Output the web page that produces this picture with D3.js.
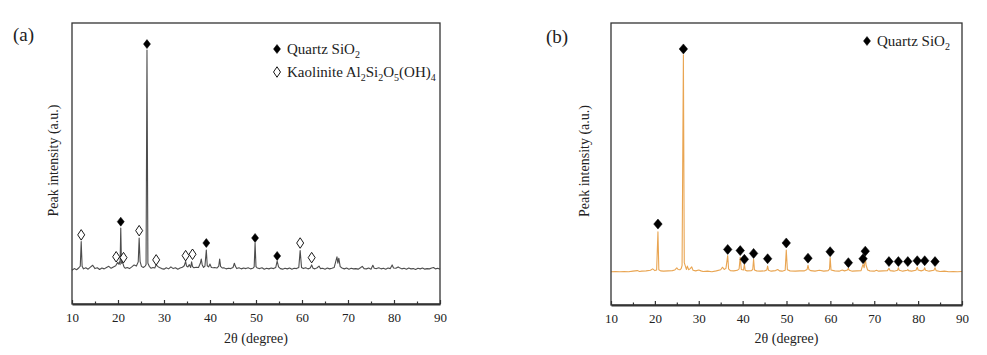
<!DOCTYPE html>
<html><head><meta charset="utf-8">
<script src="https://cdn.jsdelivr.net/npm/d3@7"></script>
<style>
body{margin:0;background:#fff;}
text{font-family:"Liberation Serif","Times New Roman",serif;fill:#222;}
</style></head><body>
<svg id="c" width="987" height="355"></svg>
<script>
// ---------- Data ----------
const xTicks = [10,20,30,40,50,60,70,80,90];
const xMinorTicks = [15,25,35,45,55,65,75,85];

// Panel (a) pattern: 2θ and intensity (a.u.)
const aTheta = [10.0,10.5,11.0,11.5,11.8,12.0,12.2,12.5,13.0,13.5,14.0,14.5,15.0,15.5,16.0,16.5,17.0,17.5,18.0,18.5,19.0,19.5,19.9,20.1,20.3,20.45,20.6,20.75,21.0,21.3,21.6,22.0,22.5,23.0,23.5,24.0,24.4,24.6,24.8,25.1,25.5,25.9,26.1,26.3,26.5,26.8,27.2,27.6,28.0,28.3,28.6,29.0,29.5,30.0,30.5,31.0,31.5,32.0,32.5,33.0,33.5,34.0,34.4,34.7,34.9,35.2,35.5,35.8,36.0,36.2,36.5,37.0,37.5,37.9,38.1,38.3,38.6,38.9,39.2,39.4,39.7,40.0,40.3,40.7,41.0,41.5,41.9,42.1,42.3,42.7,43.0,43.5,44.0,44.5,45.0,45.3,45.5,45.8,46.3,46.8,47.3,47.8,48.3,48.8,49.3,49.6,49.8,50.0,50.3,50.8,51.3,51.8,52.3,52.8,53.3,53.8,54.3,54.6,54.9,55.3,55.8,56.3,56.8,57.3,57.8,58.3,58.8,59.3,59.6,59.9,60.3,60.8,61.3,61.8,62.1,62.4,62.8,63.3,63.7,64.0,64.5,65.0,65.5,66.0,66.5,67.0,67.4,67.6,67.8,68.0,68.3,68.7,69.2,69.7,70.2,70.7,71.2,71.7,72.2,72.7,73.1,73.5,74.0,74.5,75.0,75.4,75.7,76.2,76.7,77.2,77.7,78.2,78.7,79.2,79.6,79.9,80.4,80.9,81.2,81.7,82.2,82.7,83.2,83.7,84.2,84.7,85.2,85.7,86.2,86.7,87.2,87.7,88.2,88.6,89.0,89.5,90.0];
const aIntensity = [12.0,12.6,12.2,12.9,13.5,22.2,13.4,12.5,12.9,12.4,13.1,13.8,12.6,12.9,12.3,12.8,12.5,13.0,13.4,12.7,13.2,13.6,14.8,14.2,15.0,14.0,27.0,14.5,14.8,13.2,12.7,13.0,12.6,13.2,13.9,13.5,15.0,23.5,15.2,13.4,13.0,13.5,14.0,90.4,14.5,13.4,12.7,13.0,12.8,14.0,13.4,13.0,12.6,12.4,12.9,12.5,13.2,12.6,12.9,12.4,12.8,13.1,13.6,15.2,13.5,13.2,14.0,13.0,15.0,13.3,12.9,13.1,13.0,14.5,16.0,14.0,13.0,13.5,19.2,13.6,13.2,14.2,13.0,12.9,13.0,12.8,13.5,16.0,13.4,12.8,12.9,12.5,12.7,12.6,13.0,14.5,13.5,12.6,12.9,12.5,12.8,12.6,12.9,12.5,12.7,13.2,21.7,13.3,12.8,12.6,12.9,12.4,12.7,12.5,12.8,12.6,13.0,15.3,13.2,12.6,12.4,12.7,12.5,12.8,12.4,12.7,12.6,13.0,19.0,13.0,12.6,12.9,12.5,12.8,13.9,12.7,12.5,12.9,13.5,12.6,12.7,12.4,12.8,12.5,12.7,13.0,15.5,16.8,14.5,16.3,13.3,12.8,12.5,12.8,12.4,12.7,12.5,12.6,12.4,12.9,13.4,12.6,12.5,12.8,12.4,13.8,12.7,12.6,12.9,12.5,12.7,12.4,12.8,12.6,13.9,12.8,12.7,13.2,12.9,12.5,12.7,12.4,12.8,12.5,12.6,12.3,12.7,12.5,12.8,12.4,12.6,12.5,12.8,13.0,12.5,12.7,12.4];

// Panel (a) phase markers
const aQuartzTheta = [20.6,26.3,39.2,49.8,54.6];
const aQuartzLevel = [29.3,92.5,21.7,23.5,17.1];
const aKaolTheta = [12.0,19.6,21.2,24.6,28.3,34.7,36.2,59.6,62.1];
const aKaolLevel = [24.6,16.8,16.5,26.1,15.7,17.2,17.7,21.7,16.5];

// Panel (b) pattern
const bTheta = [10.0,11.0,12.0,13.0,14.0,15.0,16.0,16.5,17.0,18.0,19.0,19.5,20.0,20.4,20.7,20.9,21.3,22.0,23.0,24.0,24.5,25.0,25.3,25.7,26.0,26.2,26.5,26.7,27.0,27.2,27.4,27.7,28.0,28.4,28.7,29.3,30.0,30.5,31.0,32.0,33.0,34.0,35.0,35.4,35.8,36.2,36.6,36.8,37.2,38.0,38.8,39.2,39.45,39.7,40.2,40.4,40.6,41.0,42.0,42.3,42.5,42.7,43.2,44.0,45.0,45.5,45.7,45.9,46.5,47.5,48.0,48.4,49.0,49.7,49.95,50.2,50.8,52.0,53.0,54.0,54.7,54.9,55.1,55.5,56.5,57.5,58.5,59.5,59.8,59.95,60.15,61.0,62.0,62.7,63.2,63.9,64.1,64.3,65.0,66.0,67.0,67.3,67.45,67.7,67.95,68.15,68.5,69.0,70.0,70.5,71.0,72.0,73.0,73.35,73.6,74.5,75.3,75.5,75.7,76.5,77.5,77.65,77.8,78.5,79.5,79.8,80.0,80.7,81.3,81.5,81.7,82.5,83.6,83.85,84.1,85.0,86.0,87.0,88.0,89.0,90.0];
const bIntensity = [11.8,11.9,11.8,11.9,11.8,12.0,12.2,11.9,12.0,12.1,12.3,12.8,12.2,12.4,26.0,12.5,12.1,12.0,12.1,12.2,12.4,13.2,12.6,12.5,12.9,14.0,88.7,15.0,13.5,12.6,13.8,12.5,12.8,13.5,12.3,12.1,12.4,12.1,11.9,12.0,11.8,12.1,12.5,13.4,12.6,13.0,17.5,12.8,12.2,12.1,12.3,12.8,16.9,12.6,12.4,14.4,12.3,12.1,12.2,12.6,16.2,12.4,12.1,12.0,12.1,12.4,13.8,12.3,12.0,12.2,12.6,12.1,12.0,12.3,19.5,12.5,12.1,12.0,12.1,12.1,12.6,14.1,12.6,12.2,12.0,12.3,12.0,12.2,12.7,16.8,12.4,12.1,12.0,12.4,12.1,12.4,13.0,12.3,12.0,12.1,12.2,13.8,14.4,13.2,16.6,14.0,12.4,12.1,12.0,12.3,12.0,12.1,12.2,13.0,12.2,12.0,12.3,13.2,12.3,12.0,12.3,12.6,12.2,12.0,12.3,13.4,12.4,12.1,12.4,13.2,12.3,12.0,12.3,13.2,12.2,11.9,12.0,11.8,11.9,11.8,11.9];

// Panel (b) phase markers
const bQuartzTheta = [20.7,26.5,36.6,39.45,40.4,42.5,45.7,49.95,54.9,59.95,64.1,67.45,67.95,73.35,75.5,77.65,79.8,81.5,83.85];
const bQuartzLevel = [28.7,90.8,19.7,19.3,16.2,18.3,16.4,22.0,16.6,18.9,15.0,16.4,19.1,15.4,15.4,15.4,15.7,15.7,15.4];

// ---------- Drawing ----------
const svg = d3.select("#c");
svg.append("rect").attr("width",987).attr("height",355).attr("fill","#fff");

function diamondPath(cx, cy, w, h){
  return `M${cx},${cy-h/2}L${cx+w/2},${cy}L${cx},${cy+h/2}L${cx-w/2},${cy}Z`;
}

function panel(cfg){
  const g = svg.append("g");
  const x = d3.scaleLinear().domain([10,90]).range([cfg.left, cfg.right]);
  const y = d3.scaleLinear().domain([0,100]).range([cfg.bottom, cfg.top]);

  const pts = cfg.theta.map((t,i)=>[t, cfg.inten[i]]);
  g.append("path").datum(pts)
    .attr("d", d3.line().x(d=>x(d[0])).y(d=>y(d[1])))
    .attr("fill","none").attr("stroke",cfg.color).attr("stroke-width",1.1)
    .attr("stroke-linejoin","round");

  g.append("rect").attr("x",cfg.left).attr("y",cfg.top)
    .attr("width",cfg.right-cfg.left).attr("height",cfg.bottom-cfg.top)
    .attr("fill","none").attr("stroke","#333").attr("stroke-width",1.3);

  const ax = g.append("g").attr("transform",`translate(0,${cfg.bottom})`)
    .call(d3.axisBottom(x).tickValues(xTicks).tickSizeInner(-4).tickSizeOuter(0).tickPadding(9).tickFormat(d3.format("d")));
  ax.select(".domain").attr("stroke","#333").attr("stroke-width",2);
  ax.selectAll(".tick line").attr("stroke","#333").attr("stroke-width",1.2);
  ax.selectAll("text").attr("font-size",13).attr("fill","#222")
    .attr("font-family","Liberation Serif, serif");
  const axm = g.append("g").attr("transform",`translate(0,${cfg.bottom})`)
    .call(d3.axisBottom(x).tickValues(xMinorTicks).tickSizeInner(-2.5).tickSizeOuter(0).tickFormat(""));
  axm.select(".domain").remove();
  axm.selectAll(".tick line").attr("stroke","#333").attr("stroke-width",1.2);

  g.append("text").attr("x",(cfg.left+cfg.right)/2).attr("y",343)
    .attr("text-anchor","middle").attr("font-size",14).text("2θ (degree)");

  g.append("text")
    .attr("transform",`translate(${cfg.ylabelX},${(cfg.top+cfg.bottom)/2 - 3}) rotate(-90)`)
    .attr("text-anchor","middle").attr("font-size",14).text("Peak intensity (a.u.)");

  g.append("text").attr("x",cfg.tagX).attr("y",cfg.tagY).attr("font-size",19).text(cfg.tag);

  cfg.markers.forEach(m=>{
    g.selectAll(null).data(m.theta.map((t,i)=>[t,m.level[i]])).enter()
      .append("path")
      .attr("d", d=>diamondPath(x(d[0]), y(d[1]), m.w, m.h))
      .attr("fill", m.filled ? "#000" : "#fff")
      .attr("stroke","#000").attr("stroke-width", m.filled ? 0.5 : 0.9);
  });

  cfg.legend.forEach((L,i)=>{
    const ly = cfg.legY + i*23;
    g.append("path").attr("d", diamondPath(cfg.legX, ly, L.w, L.h))
      .attr("fill", L.filled ? "#000" : "#fff").attr("stroke","#000")
      .attr("stroke-width", L.filled ? 0.5 : 0.9);
    const t = g.append("text").attr("x",cfg.legX+10).attr("y",ly+5).attr("font-size",15);
    let shifted = 0;
    L.parts.forEach(p=>{
      const want = p.sub ? 4 : 0;
      const ts = t.append("tspan").text(p.t).attr("dy", want - shifted);
      if (p.sub) ts.attr("font-size",10);
      shifted = want;
    });
  });
}

panel({
  left:72, right:440, top:23, bottom:304, color:"#4d4d4d",
  theta:aTheta, inten:aIntensity, ylabelX:58, tag:"(a)", tagX:13, tagY:41,
  markers:[
    {theta:aQuartzTheta, level:aQuartzLevel, filled:true, w:7, h:9},
    {theta:aKaolTheta, level:aKaolLevel, filled:false, w:7, h:10.5}
  ],
  legX:277, legY:49,
  legend:[
    {filled:true, w:7, h:9, parts:[{t:"Quartz SiO"},{t:"2",sub:true}]},
    {filled:false, w:7, h:10.5, parts:[{t:"Kaolinite Al"},{t:"2",sub:true},{t:"Si"},{t:"2",sub:true},{t:"O"},{t:"5",sub:true},{t:"(OH)"},{t:"4",sub:true}]}
  ]
});

panel({
  left:611, right:962, top:23, bottom:305, color:"#e9a552",
  theta:bTheta, inten:bIntensity, ylabelX:589, tag:"(b)", tagX:546, tagY:43,
  markers:[
    {theta:bQuartzTheta, level:bQuartzLevel, filled:true, w:8.5, h:10}
  ],
  legX:867, legY:41,
  legend:[
    {filled:true, w:7, h:9, parts:[{t:"Quartz SiO"},{t:"2",sub:true}]}
  ]
});
</script></body></html>
